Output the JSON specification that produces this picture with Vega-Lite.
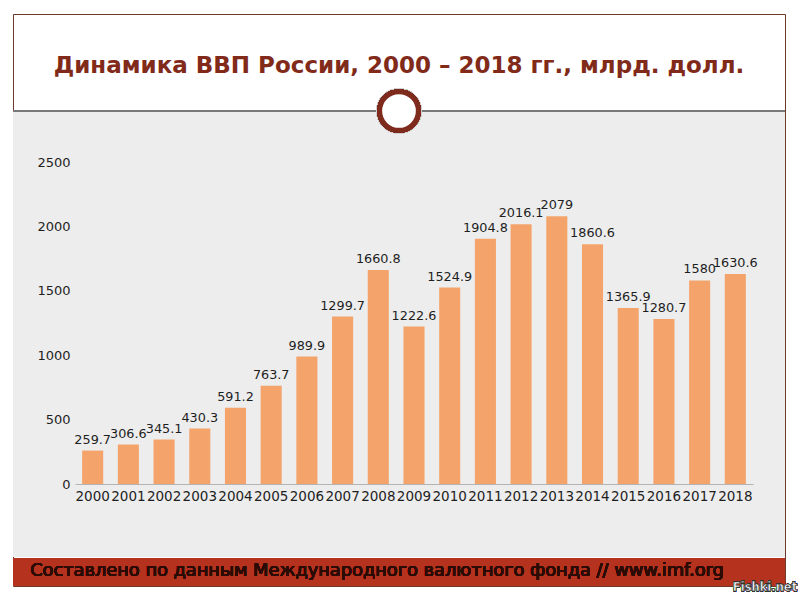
{
  "$schema": "https://vega.github.io/schema/vega-lite/v6.json",
  "autosize": "none",
  "padding": {"left": 13, "top": 14, "right": 15, "bottom": 14},
  "width": 772,
  "height": 572,
  "background": "#ffffff",
  "title": {
    "text": "Динамика ВВП России, 2000 – 2018 гг., млрд. долл.",
    "orient": "top",
    "anchor": "middle",
    "frame": "group",
    "offset": -82,
    "baseline": "alphabetic",
    "font": "DejaVu Sans",
    "fontSize": 23,
    "fontWeight": "bold",
    "color": "#812a1a"
  },
  "config": {
    "view": {"fill": "#ffffff", "stroke": "#6b3a2a", "strokeWidth": 1},
    "font": "DejaVu Sans"
  },
  "data": {
    "values": [
      {"year": "2000", "gdp": 259.7},
      {"year": "2001", "gdp": 306.6},
      {"year": "2002", "gdp": 345.1},
      {"year": "2003", "gdp": 430.3},
      {"year": "2004", "gdp": 591.2},
      {"year": "2005", "gdp": 763.7},
      {"year": "2006", "gdp": 989.9},
      {"year": "2007", "gdp": 1299.7},
      {"year": "2008", "gdp": 1660.8},
      {"year": "2009", "gdp": 1222.6},
      {"year": "2010", "gdp": 1524.9},
      {"year": "2011", "gdp": 1904.8},
      {"year": "2012", "gdp": 2016.1},
      {"year": "2013", "gdp": 2079},
      {"year": "2014", "gdp": 1860.6},
      {"year": "2015", "gdp": 1365.9},
      {"year": "2016", "gdp": 1280.7},
      {"year": "2017", "gdp": 1580},
      {"year": "2018", "gdp": 1630.6}
    ]
  },
  "layer": [
    {
      "mark": {"type": "rect", "color": "#ededed"},
      "encoding": {
        "y": {"datum": 2888, "type": "quantitative", "scale": {"domain": [0, 2500], "range": [470, 148], "nice": false, "zero": false}},
        "y2": {"datum": -567}
      }
    },
    {
      "mark": {"type": "rect", "color": "#b5331e"},
      "encoding": {
        "y": {"datum": -574.5, "type": "quantitative"},
        "y2": {"datum": -792}
      }
    },
    {
      "mark": {"type": "rule", "color": "#7a7a7a", "strokeWidth": 1},
      "encoding": {"y": {"datum": 2896, "type": "quantitative"}}
    },
    {
      "mark": {"type": "point", "shape": "circle", "filled": false, "fill": "#ffffff", "fillOpacity": 1, "stroke": "#d0d0d0", "strokeWidth": 2, "size": 1900, "opacity": 1, "dy": 3},
      "encoding": {"y": {"datum": 2896, "type": "quantitative"}}
    },
    {
      "mark": {"type": "point", "shape": "circle", "filled": false, "fill": "#ffffff", "fillOpacity": 1, "stroke": "#7e2a1c", "strokeWidth": 5, "size": 1500, "opacity": 1},
      "encoding": {"y": {"datum": 2896, "type": "quantitative"}}
    },
    {
      "mark": {"type": "bar", "color": "#f4a46b"},
      "encoding": {
        "x": {
          "field": "year",
          "type": "ordinal",
          "scale": {"range": [62, 740], "paddingInner": 0.41, "paddingOuter": 0.2},
          "axis": {
            "title": null,
            "orient": "bottom",
            "offset": -102,
            "zindex": 1,
            "domain": true,
            "domainColor": "#b4b4b4",
            "domainWidth": 1,
            "ticks": false,
            "tickSize": 0,
            "labelPadding": 5,
            "labelAngle": 0,
            "labelFontSize": 13.5,
            "labelColor": "#1e1e1e",
            "labelOverlap": false,
            "labelFlush": false,
            "labelBaseline": "top"
          }
        },
        "y": {
          "field": "gdp",
          "type": "quantitative",
          "axis": {
            "title": null,
            "orient": "left",
            "offset": -62,
            "zindex": 1,
            "values": [0, 500, 1000, 1500, 2000, 2500],
            "format": "d",
            "domain": false,
            "ticks": false,
            "tickSize": 0,
            "grid": false,
            "labelPadding": 5,
            "labelFontSize": 13,
            "labelColor": "#1e1e1e"
          }
        }
      }
    },
    {
      "mark": {"type": "text", "baseline": "bottom", "dy": -4, "fontSize": 12.8, "color": "#1e1e1e"},
      "encoding": {
        "x": {"field": "year", "type": "ordinal"},
        "y": {"field": "gdp", "type": "quantitative"},
        "text": {"field": "gdp", "type": "quantitative"}
      }
    },
    {
      "mark": {"type": "text", "baseline": "middle", "align": "center", "dx": -22, "fontSize": 17.8, "color": "#2c0b05"},
      "encoding": {
        "y": {"datum": -675.5, "type": "quantitative"},
        "text": {"value": "Составлено по данным Международного валютного фонда // www.imf.org"}
      }
    },
    {
      "mark": {"type": "text", "baseline": "middle", "align": "center", "dx": 366, "fontSize": 11.5, "fontWeight": "bold", "color": "#ffffff", "stroke": "#333333", "strokeWidth": 0.6},
      "encoding": {
        "y": {"datum": -807, "type": "quantitative"},
        "text": {"value": "Fishki.net"}
      }
    }
  ]
}
